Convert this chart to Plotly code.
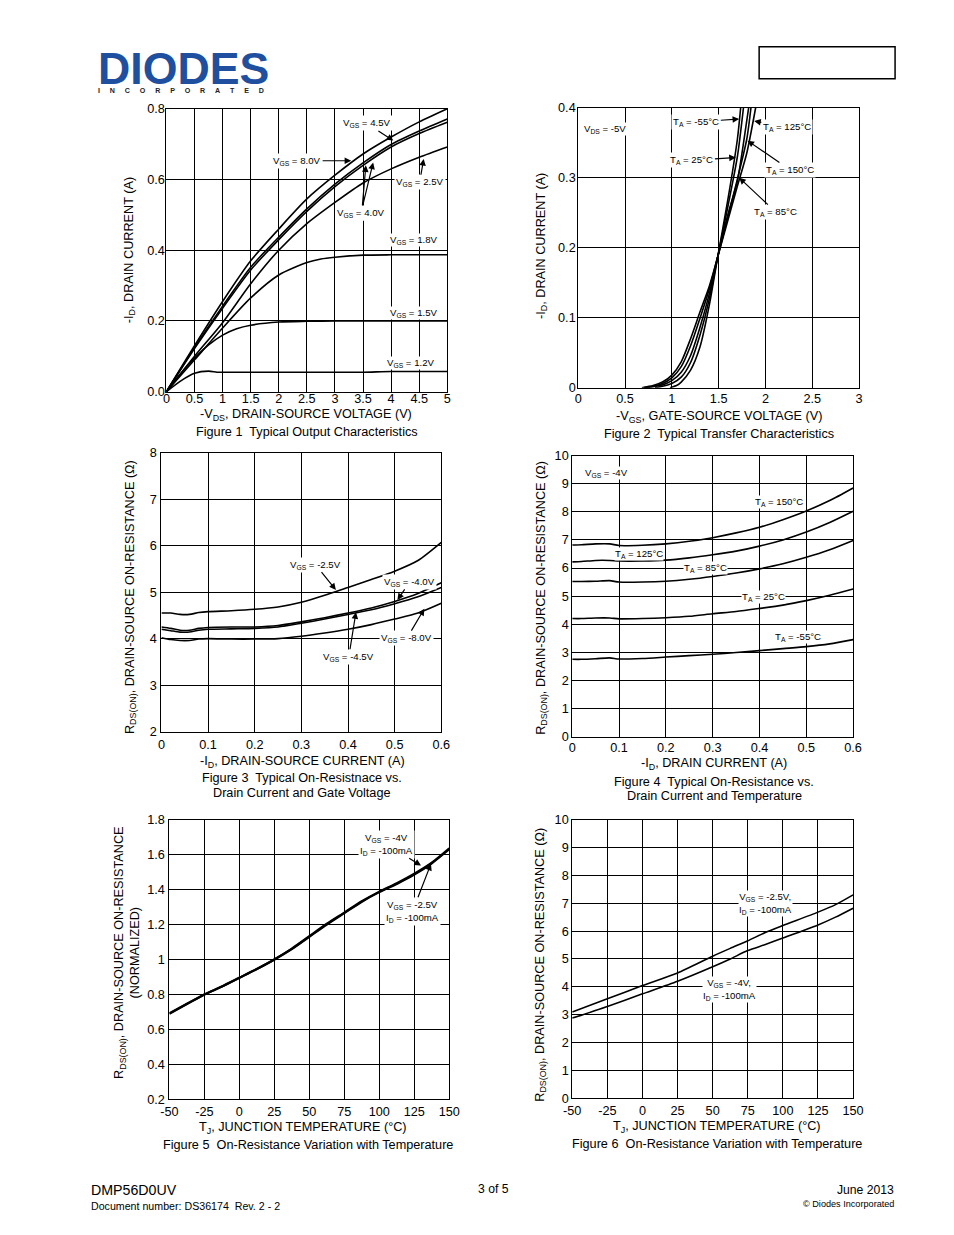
import plotly.graph_objects as go

FONT = "Liberation Sans, Arial, sans-serif"
W, H = 954, 1235

# ---------------- Figure 1 : output characteristics ----------------
f1_vds = [0, 0.5, 1.0, 1.5, 2.0, 2.5, 3.0, 3.5, 4.0, 4.5, 5.0]
f1_id_8v0 = [0, 0.13, 0.255, 0.37, 0.46, 0.545, 0.612, 0.672, 0.72, 0.763, 0.80]
f1_id_4v5 = [0, 0.125, 0.242, 0.352, 0.437, 0.517, 0.587, 0.647, 0.699, 0.737, 0.771]
f1_id_4v0 = [0, 0.122, 0.236, 0.344, 0.43, 0.51, 0.58, 0.64, 0.692, 0.73, 0.762]
f1_id_2v5 = [0, 0.10, 0.195, 0.305, 0.40, 0.475, 0.535, 0.59, 0.63, 0.663, 0.692]
f1_vds_1v8 = [0, 0.5, 1.0, 1.5, 2.0, 2.5, 2.75, 3.0, 3.5, 4.0, 4.5, 5.0]
f1_id_1v8 = [0, 0.09, 0.18, 0.265, 0.33, 0.365, 0.375, 0.38, 0.386, 0.387, 0.387, 0.387]
f1_vds_1v5 = [0, 0.25, 0.5, 0.75, 1.0, 1.25, 1.5, 2.0, 2.5, 3.0, 4.0, 5.0]
f1_id_1v5 = [0, 0.05, 0.095, 0.132, 0.16, 0.178, 0.188, 0.197, 0.199, 0.2, 0.2, 0.2]
f1_vds_1v2 = [0, 0.25, 0.5, 0.75, 0.9, 1.0, 2.0, 3.0, 3.5, 4.0, 5.0]
f1_id_1v2 = [0, 0.03, 0.052, 0.058, 0.055, 0.055, 0.055, 0.055, 0.055, 0.057, 0.057]
f1_xticks = [0, 0.5, 1, 1.5, 2, 2.5, 3, 3.5, 4, 4.5, 5]
f1_xtext = ["0", "0.5", "1", "1.5", "2", "2.5", "3", "3.5", "4", "4.5", "5"]
f1_yticks = [0, 0.2, 0.4, 0.6, 0.8]
f1_ytext = ["0.0", "0.2", "0.4", "0.6", "0.8"]

# ---------------- Figure 2 : transfer characteristics ----------------
f2_vgs_150 = [0.68, 0.8, 0.9, 1.0, 1.1, 1.2, 1.3, 1.4, 1.49, 1.6, 1.7, 1.8, 1.845]
f2_id_150 = [0, 0.003, 0.008, 0.018, 0.037, 0.07, 0.108, 0.145, 0.187, 0.245, 0.298, 0.355, 0.40]
f2_vgs_125 = [0.7, 0.8, 0.9, 1.0, 1.1, 1.2, 1.3, 1.4, 1.49, 1.6, 1.7, 1.8, 1.895]
f2_id_125 = [0, 0.002, 0.006, 0.014, 0.03, 0.06, 0.099, 0.141, 0.187, 0.24, 0.288, 0.335, 0.40]
f2_vgs_85 = [0.72, 0.8, 0.9, 1.0, 1.1, 1.2, 1.3, 1.4, 1.49, 1.6, 1.7, 1.76, 1.82]
f2_id_85 = [0, 0.0015, 0.004, 0.01, 0.022, 0.046, 0.086, 0.134, 0.187, 0.248, 0.295, 0.345, 0.40]
f2_vgs_25 = [0.82, 0.9, 1.0, 1.1, 1.2, 1.3, 1.4, 1.49, 1.6, 1.7, 1.765]
f2_id_25 = [0, 0.002, 0.006, 0.015, 0.036, 0.075, 0.127, 0.187, 0.26, 0.33, 0.40]
f2_vgs_m55 = [0.98, 1.05, 1.1, 1.2, 1.3, 1.4, 1.49, 1.6, 1.7, 1.735]
f2_id_m55 = [0, 0.003, 0.008, 0.025, 0.058, 0.118, 0.187, 0.27, 0.355, 0.40]
f2_xticks = [0, 0.5, 1, 1.5, 2, 2.5, 3]
f2_xtext = ["0", "0.5", "1", "1.5", "2", "2.5", "3"]
f2_yticks = [0, 0.1, 0.2, 0.3, 0.4]
f2_ytext = ["0", "0.1", "0.2", "0.3", "0.4"]

# ---------------- Figure 3 : RDS(on) vs ID and VGS ----------------
f3_id = [0, 0.02, 0.04, 0.06, 0.08, 0.1, 0.15, 0.2, 0.25, 0.3, 0.35, 0.4, 0.45, 0.5, 0.55, 0.6]
f3_r_2v5 = [4.55, 4.55, 4.52, 4.52, 4.56, 4.58, 4.6, 4.63, 4.68, 4.78, 4.93, 5.1, 5.27, 5.45, 5.68, 6.07]
f3_r_4v0 = [4.25, 4.22, 4.18, 4.18, 4.22, 4.24, 4.25, 4.25, 4.28, 4.36, 4.45, 4.55, 4.66, 4.8, 4.97, 5.2]
f3_r_4v5 = [4.2, 4.17, 4.14, 4.14, 4.18, 4.2, 4.21, 4.22, 4.25, 4.33, 4.42, 4.52, 4.62, 4.75, 4.9, 5.1]
f3_r_8v0 = [4.02, 3.98, 3.96, 3.96, 3.99, 4.0, 3.99, 3.99, 4.0, 4.05, 4.12, 4.2, 4.3, 4.42, 4.55, 4.76]
f3_xticks = [0, 0.1, 0.2, 0.3, 0.4, 0.5, 0.6]
f3_xtext = ["0", "0.1", "0.2", "0.3", "0.4", "0.5", "0.6"]
f3_yticks = [2, 3, 4, 5, 6, 7, 8]
f3_ytext = ["2", "3", "4", "5", "6", "7", "8"]

# ---------------- Figure 4 : RDS(on) vs ID and temperature ----------------
f4_id = [0, 0.02, 0.05, 0.08, 0.1, 0.15, 0.2, 0.25, 0.3, 0.35, 0.4, 0.45, 0.5, 0.55, 0.6]
f4_r_150 = [6.82, 6.83, 6.86, 6.86, 6.8, 6.81, 6.86, 6.95, 7.08, 7.25, 7.45, 7.72, 8.03, 8.4, 8.85]
f4_r_125 = [6.22, 6.23, 6.27, 6.27, 6.25, 6.25, 6.28, 6.36, 6.47, 6.6, 6.78, 7.0, 7.28, 7.62, 8.02]
f4_r_85 = [5.52, 5.52, 5.53, 5.55, 5.5, 5.5, 5.53, 5.6, 5.7, 5.82, 5.97, 6.15, 6.38, 6.65, 6.98]
f4_r_25 = [4.2, 4.2, 4.22, 4.22, 4.19, 4.2, 4.23, 4.28, 4.37, 4.45, 4.56, 4.68, 4.84, 5.03, 5.25]
f4_r_m55 = [2.75, 2.75, 2.77, 2.8, 2.76, 2.78, 2.83, 2.88, 2.93, 2.99, 3.06, 3.13, 3.2, 3.3, 3.45]
f4_xticks = [0, 0.1, 0.2, 0.3, 0.4, 0.5, 0.6]
f4_xtext = ["0", "0.1", "0.2", "0.3", "0.4", "0.5", "0.6"]
f4_yticks = [0, 1, 2, 3, 4, 5, 6, 7, 8, 9, 10]
f4_ytext = ["0", "1", "2", "3", "4", "5", "6", "7", "8", "9", "10"]

# ---------------- Figure 5 : normalized RDS(on) vs temperature ----------------
f5_tj = [-50, -37.5, -25, -12.5, 0, 12.5, 25, 37.5, 50, 62.5, 75, 87.5, 100, 112.5, 125, 137.5, 150]
f5_r_4v = [0.69, 0.745, 0.80, 0.845, 0.895, 0.945, 1.0, 1.06, 1.13, 1.2, 1.265, 1.33, 1.385, 1.432, 1.485, 1.55, 1.63]
f5_r_2v5 = [0.692, 0.747, 0.80, 0.846, 0.896, 0.946, 1.0, 1.062, 1.133, 1.204, 1.268, 1.333, 1.388, 1.436, 1.49, 1.553, 1.635]
f5_xticks = [-50, -25, 0, 25, 50, 75, 100, 125, 150]
f5_xtext = ["-50", "-25", "0", "25", "50", "75", "100", "125", "150"]
f5_yticks = [0.2, 0.4, 0.6, 0.8, 1.0, 1.2, 1.4, 1.6, 1.8]
f5_ytext = ["0.2", "0.4", "0.6", "0.8", "1", "1.2", "1.4", "1.6", "1.8"]

# ---------------- Figure 6 : RDS(on) vs temperature ----------------
f6_tj = [-50, -25, 0, 25, 50, 62.5, 75, 87.5, 100, 125, 137.5, 150]
f6_r_2v5 = [3.1, 3.57, 4.05, 4.5, 5.1, 5.38, 5.65, 5.95, 6.2, 6.68, 6.95, 7.3]
f6_r_4v = [2.88, 3.3, 3.75, 4.2, 4.72, 5.0, 5.3, 5.52, 5.75, 6.22, 6.5, 6.82]
f6_xticks = [-50, -25, 0, 25, 50, 75, 100, 125, 150]
f6_xtext = ["-50", "-25", "0", "25", "50", "75", "100", "125", "150"]
f6_yticks = [0, 1, 2, 3, 4, 5, 6, 7, 8, 9, 10]
f6_ytext = ["0", "1", "2", "3", "4", "5", "6", "7", "8", "9", "10"]

# page pixel -> paper coordinate (compensates the capture's slight scale / offset)
SX, OX = 0.9795, 9.5
SY, OY = 0.989, 6.2
FS = 1.015


def PX(x):
    return (x - OX) / SX / W


def PY(y):
    return 1 - (y - OY) / SY / H


fig = go.Figure()


def curve(n, xs, ys, width=1.6):
    ref = "" if n == 1 else str(n)
    fig.add_trace(go.Scatter(x=xs, y=ys, mode="lines", xaxis="x" + ref, yaxis="y" + ref,
                             line=dict(color="black", width=width, shape="spline", smoothing=0.7),
                             showlegend=False, hoverinfo="skip"))


curve(1, f1_vds, f1_id_8v0)
curve(1, f1_vds, f1_id_4v5)
curve(1, f1_vds, f1_id_4v0)
curve(1, f1_vds, f1_id_2v5)
curve(1, f1_vds_1v8, f1_id_1v8)
curve(1, f1_vds_1v5, f1_id_1v5)
curve(1, f1_vds_1v2, f1_id_1v2)

curve(2, f2_vgs_150, f2_id_150)
curve(2, f2_vgs_125, f2_id_125)
curve(2, f2_vgs_85, f2_id_85)
curve(2, f2_vgs_25, f2_id_25)
curve(2, f2_vgs_m55, f2_id_m55)

curve(3, f3_id, f3_r_2v5)
curve(3, f3_id, f3_r_4v0)
curve(3, f3_id, f3_r_4v5)
curve(3, f3_id, f3_r_8v0)

curve(4, f4_id, f4_r_150)
curve(4, f4_id, f4_r_125)
curve(4, f4_id, f4_r_85)
curve(4, f4_id, f4_r_25)
curve(4, f4_id, f4_r_m55)

curve(5, f5_tj, f5_r_4v, 2.2)
curve(5, f5_tj, f5_r_2v5, 2.2)

curve(6, f6_tj, f6_r_2v5)
curve(6, f6_tj, f6_r_4v)

# axis boxes in page pixels: (left, right, top, bottom), x/y tick label standoff
panels = {
    1: ((167, 448, 108, 391), [0, 5], [0, 0.8], f1_xticks, f1_xtext, f1_yticks, f1_ytext, -5, -2),
    2: ((579, 860, 107, 387), [0, 3], [0, 0.4], f2_xticks, f2_xtext, f2_yticks, f2_ytext, -1, -1),
    3: ((162, 442, 452, 731), [0, 0.6], [2, 8], f3_xticks, f3_xtext, f3_yticks, f3_ytext, 1, 1),
    4: ((573, 854, 455, 736), [0, 0.6], [0, 10], f4_xticks, f4_xtext, f4_yticks, f4_ytext, -1, 0),
    5: ((170, 450, 819, 1099), [-50, 150], [0.2, 1.8], f5_xticks, f5_xtext, f5_yticks, f5_ytext, 0, 1),
    6: ((573, 854, 819, 1098), [-50, 150], [0, 10], f6_xticks, f6_xtext, f6_yticks, f6_ytext, 0, 0),
}

layout_axes = {}
for n, (box, xr, yr, xt, xtt, yt, ytt, xso, yso) in panels.items():
    l, r, t, b = box
    ref = "" if n == 1 else str(n)
    common = dict(showline=True, linecolor="black", linewidth=1, mirror=True,
                  showgrid=True, gridcolor="black", gridwidth=1, zeroline=False,
                  ticks="", tickfont=dict(family=FONT, size=12.5 * FS, color="black"),
                  fixedrange=True)
    layout_axes["xaxis" + ref] = dict(domain=[PX(l), PX(r)], range=xr, tickmode="array",
                                      tickvals=xt, ticktext=xtt, anchor="y" + ref,
                                      ticklabelstandoff=xso, **common)
    layout_axes["yaxis" + ref] = dict(domain=[PY(b), PY(t)], range=yr, tickmode="array",
                                      tickvals=yt, ticktext=ytt, anchor="x" + ref,
                                      ticklabelstandoff=yso, **common)

ann = []


def text(xp, yp, s, size, angle=0, xanchor="center", color="black", bold=False, bg=None,
         align="center"):
    d = dict(x=PX(xp), y=PY(yp), xref="paper", yref="paper", text=s, showarrow=False,
             font=dict(family=FONT, size=size * FS, color=color,
                       weight="bold" if bold else "normal"),
             xanchor=xanchor, yanchor="middle", textangle=angle, align=align)
    if bg:
        d["bgcolor"] = bg
        d["borderpad"] = 0
    ann.append(d)


def arrow(n, tx, ty, s, ax, ay, size=9.5):
    ref = "" if n == 1 else str(n)
    ann.append(dict(x=tx, y=ty, xref="x" + ref, yref="y" + ref, text=s, showarrow=True,
                    ax=ax / SX, ay=ay / SY, arrowhead=2, arrowsize=1.1, arrowwidth=1.2,
                    arrowcolor="black", font=dict(family=FONT, size=size * FS, color="black"),
                    bgcolor="white", borderpad=1))


# ---- Figure 1 annotations
arrow(1, 4.04, 0.71, "V<sub>GS</sub> = 4.5V", -26, -17)
arrow(1, 3.29, 0.653, "V<sub>GS</sub> = 8.0V", -53, 0)
arrow(1, 3.55, 0.64, "V<sub>GS</sub> = 4.0V", -4, 47)
arrow(1, 3.68, 0.648, "V<sub>GS</sub> = 4.0V", -12, 50)
arrow(1, 4.58, 0.658, "V<sub>GS</sub> = 2.5V", -4, 23)
text(415, 239, "V<sub>GS</sub> = 1.8V", 9.5, bg="white")
text(415, 312, "V<sub>GS</sub> = 1.5V", 9.5, bg="white")
text(412, 362, "V<sub>GS</sub> = 1.2V", 9.5, bg="white")
text(130, 249, "-I<sub>D</sub>, DRAIN CURRENT (A)", 12.5, angle=-90)
text(307, 414, "-V<sub>DS</sub>, DRAIN-SOURCE VOLTAGE (V)", 12.5)
text(308, 431, "Figure 1  Typical Output Characteristics", 12.5)

# ---- Figure 2 annotations
text(606, 128, "V<sub>DS</sub> = -5V", 9.5, bg="white")
arrow(2, 1.719, 0.384, "T<sub>A</sub> = -55°C", -42, 3)
arrow(2, 1.879, 0.381, "T<sub>A</sub> = 125°C", 32, 6)
arrow(2, 1.683, 0.329, "T<sub>A</sub> = 25°C", -43, 3)
arrow(2, 1.808, 0.353, "T<sub>A</sub> = 150°C", 42, 29)
arrow(2, 1.719, 0.30, "T<sub>A</sub> = 85°C", 36, 34)
text(542, 245, "-I<sub>D</sub>, DRAIN CURRENT (A)", 12.5, angle=-90)
text(720, 416, "-V<sub>GS</sub>, GATE-SOURCE VOLTAGE (V)", 12.5)
text(720, 433, "Figure 2  Typical Transfer Characteristics", 12.5)

# ---- Figure 3 annotations
arrow(3, 0.374, 5.047, "V<sub>GS</sub> = -2.5V", -20, -25)
arrow(3, 0.506, 4.83, "V<sub>GS</sub> = -4.0V", 12, -18)
arrow(3, 0.417, 4.566, "V<sub>GS</sub> = -4.5V", -7, 44)
arrow(3, 0.5636, 4.64, "V<sub>GS</sub> = -8.0V", -17, 29)
text(131, 596, "R<sub>DS(ON)</sub>, DRAIN-SOURCE ON-RESISTANCE (Ω)", 12.5, angle=-90)
text(303, 761, "-I<sub>D</sub>, DRAIN-SOURCE CURRENT (A)", 12.5)
text(303, 777, "Figure 3  Typical On-Resistnace vs.", 12.5)
text(303, 792, "Drain Current and Gate Voltage", 12.5)

# ---- Figure 4 annotations
text(607, 472, "V<sub>GS</sub> = -4V", 9.5, bg="white")
text(780, 501, "T<sub>A</sub> = 150°C", 9.5, bg="white")
text(640, 553, "T<sub>A</sub> = 125°C", 9.5, bg="white")
text(706, 567, "T<sub>A</sub> = 85°C", 9.5, bg="white")
text(764, 596, "T<sub>A</sub> = 25°C", 9.5, bg="white")
text(799, 636, "T<sub>A</sub> = -55°C", 9.5, bg="white")
text(542, 597, "R<sub>DS(ON)</sub>, DRAIN-SOURCE ON-RESISTANCE (Ω)", 12.5, angle=-90)
text(715, 763, "-I<sub>D</sub>, DRAIN CURRENT (A)", 12.5)
text(715, 781, "Figure 4  Typical On-Resistance vs.", 12.5)
text(715, 795, "Drain Current and Temperature", 12.5)

# ---- Figure 5 annotations
arrow(5, 129.8, 1.537, "V<sub>GS</sub> = -4V<br>I<sub>D</sub> = -100mA", -34, -21)
arrow(5, 136.9, 1.547, "V<sub>GS</sub> = -2.5V<br>I<sub>D</sub> = -100mA", -18, 47)
text(128, 952, "R<sub>DS(ON)</sub>, DRAIN-SOURCE ON-RESISTANCE<br>(NORMALIZED)", 12.5, angle=-90)
text(304, 1128, "T<sub>J</sub>, JUNCTION TEMPERATURE (°C)", 12.5)
text(309, 1145, "Figure 5  On-Resistance Variation with Temperature", 12.5)

# ---- Figure 6 annotations
text(766, 903, "V<sub>GS</sub> = -2.5V,<br>I<sub>D</sub> = -100mA", 9.5, bg="white")
text(730, 989, "V<sub>GS</sub> = -4V,<br>I<sub>D</sub> = -100mA", 9.5, bg="white")
text(542, 964, "R<sub>DS(ON)</sub>, DRAIN-SOURCE ON-RESISTANCE (Ω)", 12.5, angle=-90)
text(718, 1127, "T<sub>J</sub>, JUNCTION TEMPERATURE (°C)", 12.5)
text(718, 1144, "Figure 6  On-Resistance Variation with Temperature", 12.5)

# ---- Header (logo word and tagline drawn as one two-line text)
gap = "&nbsp;" * 5
logo = ('<span style="font-size:%.1fpx;color:#1f4f9f">DIODES</span><br>' % (44 * FS)
        + gap.join("INCORPORATED"))
text(97, 69, logo, 7, xanchor="left", color="#222222", bold=True, align="left")

# ---- Footer
text(90, 1190, "DMP56D0UV", 14, xanchor="left")
text(90, 1206, "Document number: DS36174  Rev. 2 - 2", 10.5, xanchor="left")
text(494, 1189, "3 of 5", 12)
text(897, 1190, "June 2013", 12, xanchor="right")
text(897, 1204, "© Diodes Incorporated", 9, xanchor="right")

fig.update_layout(
    width=W, height=H, margin=dict(l=0, r=0, t=0, b=0),
    paper_bgcolor="white", plot_bgcolor="white",
    font=dict(family=FONT, color="black"),
    annotations=ann,
    shapes=[dict(type="rect", xref="paper", yref="paper", x0=PX(760), x1=PX(896),
                 y0=PY(78), y1=PY(46), line=dict(color="black", width=1.5))],
    **layout_axes,
)

fig.write_html(
    "out.html",
    config={"displayModeBar": False},
    post_script="document.body.style.margin='0px';document.body.style.padding='0px';"
                "document.body.style.overflow='hidden';"
                "document.documentElement.style.overflow='hidden';",
)
